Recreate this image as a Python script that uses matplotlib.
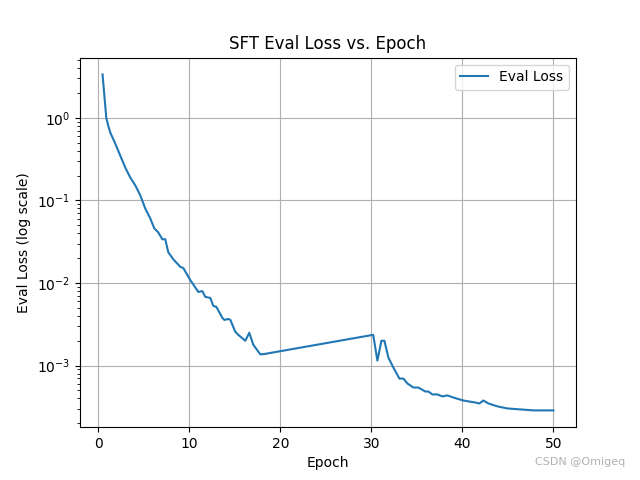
import matplotlib
matplotlib.use('Agg')
import matplotlib.pyplot as plt

# Eval loss (epoch, loss)
epochs = [0.47, 0.88, 1.10, 1.32, 1.87, 2.42, 2.97, 3.52, 4.07, 4.62,
          5.16, 5.71, 6.15, 6.59, 7.03, 7.36, 7.69, 8.24, 9.01, 9.34,
          10.1, 10.99, 11.43, 11.76, 12.31, 12.64, 12.97, 13.63, 13.85, 14.29,
          14.51, 15.05, 15.38, 16.15, 16.59, 17.03, 17.80, 18.2,
          30.2, 30.66, 31.1, 31.43, 31.87, 32.42, 33.08, 33.52, 33.96, 34.62,
          35.16, 35.93, 36.26, 36.70, 37.25, 37.80, 38.35, 39.0, 40.1, 41.4,
          41.87, 42.3, 42.86, 43.85, 44.95, 46.37, 47.8, 50.0]
eval_loss = [3.36, 1.0, 0.80, 0.665, 0.486, 0.348, 0.25, 0.189, 0.152, 0.115,
             0.080, 0.0607, 0.046, 0.0411, 0.0339, 0.0339, 0.0236, 0.0194, 0.0157, 0.0152,
             0.0109, 0.0078, 0.0080, 0.0068, 0.0066, 0.00528, 0.00515, 0.00379, 0.00358, 0.00367,
             0.00358, 0.00257, 0.00236, 0.0020, 0.0025, 0.00179, 0.00137, 0.00138,
             0.00236, 0.00115, 0.0020, 0.0020, 0.00125, 0.000946, 0.000697, 0.000697, 0.000607, 0.000543,
             0.000543, 0.000486, 0.000486, 0.000448, 0.000448, 0.000424, 0.000436, 0.000411, 0.000378, 0.000358,
             0.000348, 0.000378, 0.000348, 0.000321, 0.000303, 0.000295, 0.000287, 0.000287]

fig = plt.figure(figsize=(6.4, 4.8), dpi=100)
plt.plot(epochs, eval_loss, label='Eval Loss')
plt.yscale('log')
plt.xlabel('Epoch')
plt.ylabel('Eval Loss (log scale)')
plt.title('SFT Eval Loss vs. Epoch')
plt.legend()
plt.grid(True)
# watermark in the lower right corner
fig.text(0.977, 0.028, 'CSDN @Omigeq', ha='right', va='bottom',
         fontsize=8, color='#b0b0b0')
plt.savefig('out.png')
